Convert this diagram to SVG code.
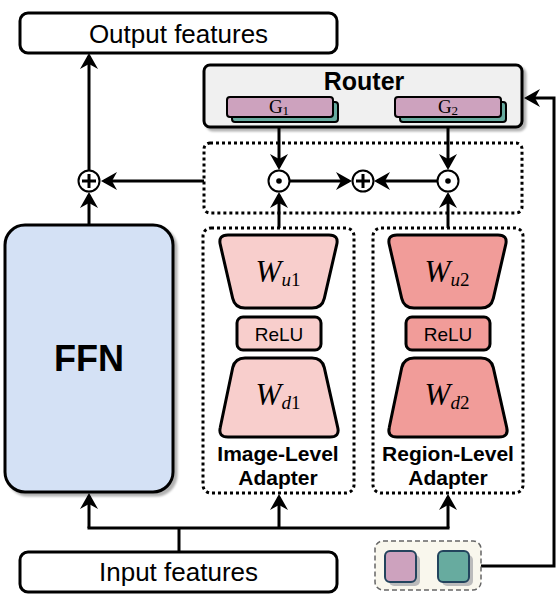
<svg xmlns="http://www.w3.org/2000/svg" width="560" height="598" viewBox="0 0 560 598">
<style>
.box{fill:#fff;stroke:#000;stroke-width:3}
.dot{fill:none;stroke:#000;stroke-width:3;stroke-dasharray:3 3}
.sans{font-family:"Liberation Sans",Arial,sans-serif}
.serif{font-family:"Liberation Serif","Times New Roman",serif}
.conn{fill:none;stroke:#000;stroke-width:3}
.op{fill:#fff;stroke:#000;stroke-width:2}
.shape{stroke:#000;stroke-width:3;stroke-linejoin:round}
</style>
<defs>
<marker id="arr" viewBox="0 0 16 18" refX="13" refY="9" markerWidth="16" markerHeight="18" markerUnits="userSpaceOnUse" orient="auto">
<path d="M0,0 L16,9 L0,18 L5,9 z" fill="#000"/>
</marker>
<filter id="sh" x="-10%" y="-10%" width="130%" height="130%">
<feDropShadow dx="3" dy="3" stdDeviation="1.2" flood-color="#000" flood-opacity="0.3"/>
</filter>
<path id="wu" d="M228,235 L329,235 Q339,235 336.7,244.7 L324.3,298.3 Q322,308 312,308 L245,308 Q235,308 232.7,298.3 L220.3,244.7 Q218,235 228,235 Z"/>
<path id="wd" d="M245,358 L312,358 Q322,358 324.3,367.7 L337.7,427.3 Q340,437 330,437 L228,437 Q218,437 220.3,427.3 L232.7,367.7 Q235,358 245,358 Z"/>
</defs>

<g id="connectors">
<line class="conn" x1="89" y1="170" x2="89" y2="56" marker-end="url(#arr)"/>
<line class="conn" x1="89" y1="225" x2="89" y2="195" marker-end="url(#arr)"/>
<line class="conn" x1="204" y1="181" x2="104" y2="181" marker-end="url(#arr)"/>
<line class="conn" x1="289" y1="181" x2="349" y2="181" marker-end="url(#arr)"/>
<line class="conn" x1="438" y1="181" x2="377" y2="181" marker-end="url(#arr)"/>
<line class="conn" x1="279" y1="117" x2="279" y2="167" marker-end="url(#arr)"/>
<line class="conn" x1="448" y1="117" x2="448" y2="167" marker-end="url(#arr)"/>
<line class="conn" x1="279" y1="228" x2="279" y2="195" marker-end="url(#arr)"/>
<line class="conn" x1="448" y1="228" x2="448" y2="195" marker-end="url(#arr)"/>
<line class="conn" x1="179" y1="552" x2="179" y2="528"/>
<line class="conn" x1="87.5" y1="528" x2="449.5" y2="528"/>
<line class="conn" x1="89" y1="528" x2="89" y2="496" marker-end="url(#arr)"/>
<line class="conn" x1="279" y1="528" x2="279" y2="497" marker-end="url(#arr)"/>
<line class="conn" x1="448" y1="528" x2="448" y2="497" marker-end="url(#arr)"/>
<polyline class="conn" points="481,566 554,566 554,98 527,98" marker-end="url(#arr)"/>
</g>

<g id="output">
<rect class="box" x="20" y="13" width="317" height="40" rx="8"/>
<text class="sans" x="178.5" y="43" font-size="26" text-anchor="middle">Output features</text>
</g>

<g id="input">
<rect class="box" x="20" y="552" width="317" height="40" rx="8"/>
<text class="sans" x="178.5" y="581" font-size="26" text-anchor="middle">Input features</text>
</g>

<g id="router">
<rect x="204" y="65" width="318" height="62" rx="6" fill="#f0f0f0" stroke="#000" stroke-width="3" filter="url(#sh)"/>
<text class="sans" x="364" y="90" font-size="25" font-weight="bold" text-anchor="middle">Router</text>
<rect x="232" y="102" width="106" height="20" rx="3" fill="#67ab9f" stroke="#000" stroke-width="2"/>
<rect x="227" y="97" width="106" height="20" rx="3" fill="#cda2be" stroke="#000" stroke-width="2"/>
<text class="serif" x="279" y="113" font-size="19" text-anchor="middle">G<tspan font-size="13" dy="2">1</tspan></text>
<rect x="400" y="102" width="106" height="20" rx="3" fill="#67ab9f" stroke="#000" stroke-width="2"/>
<rect x="395" y="97" width="106" height="20" rx="3" fill="#cda2be" stroke="#000" stroke-width="2"/>
<text class="serif" x="448" y="113" font-size="19" text-anchor="middle">G<tspan font-size="13" dy="2">2</tspan></text>
</g>

<g id="combine">
<rect class="dot" x="204" y="143" width="318" height="70" rx="6"/>
</g>

<g id="plus-out">
<circle class="op" cx="89" cy="181" r="10.5"/>
<path d="M82,181 H96 M89,174 V188" stroke="#000" stroke-width="3"/>
</g>

<g id="odot1">
<circle class="op" cx="279" cy="181" r="10.5"/>
<circle cx="279" cy="181" r="2.8" fill="#000"/>
</g>
<g id="plus-mid">
<circle class="op" cx="363" cy="181" r="10.5"/>
<path d="M356,181 H370 M363,174 V188" stroke="#000" stroke-width="3"/>
</g>
<g id="odot2">
<circle class="op" cx="448" cy="181" r="10.5"/>
<circle cx="448" cy="181" r="2.8" fill="#000"/>
</g>

<g id="ffn">
<rect x="5" y="225" width="168" height="267" rx="20" fill="#d4e1f5" stroke="#000" stroke-width="3" filter="url(#sh)"/>
<text class="sans" x="89" y="371" font-size="36" font-weight="bold" text-anchor="middle">FFN</text>
</g>

<g id="image-adapter">
<rect class="dot" x="203" y="228" width="151" height="265" rx="8"/>
<use href="#wu" class="shape" fill="#f8cecc"/>
<text class="serif" x="278" y="282" text-anchor="middle"><tspan font-size="31" font-style="italic">W</tspan><tspan font-size="19" font-style="italic" dy="4">u</tspan><tspan font-size="19">1</tspan></text>
<rect x="237" y="317" width="84" height="33" rx="6" fill="#f8cecc" stroke="#000" stroke-width="3"/>
<text class="sans" x="279" y="341" font-size="19" text-anchor="middle">ReLU</text>
<use href="#wd" class="shape" fill="#f8cecc"/>
<text class="serif" x="278" y="405" text-anchor="middle"><tspan font-size="31" font-style="italic">W</tspan><tspan font-size="19" font-style="italic" dy="4">d</tspan><tspan font-size="19">1</tspan></text>
<text class="sans" x="278" y="461" font-size="21" font-weight="bold" text-anchor="middle">Image-Level</text>
<text class="sans" x="278" y="485" font-size="21" font-weight="bold" text-anchor="middle">Adapter</text>
</g>

<g id="region-adapter">
<rect class="dot" x="373" y="228" width="150" height="265" rx="8"/>
<use href="#wu" class="shape" fill="#f19c99" transform="translate(169,0)"/>
<text class="serif" x="447" y="282" text-anchor="middle"><tspan font-size="31" font-style="italic">W</tspan><tspan font-size="19" font-style="italic" dy="4">u</tspan><tspan font-size="19">2</tspan></text>
<rect x="406" y="317" width="84" height="33" rx="6" fill="#f19c99" stroke="#000" stroke-width="3"/>
<text class="sans" x="448" y="341" font-size="19" text-anchor="middle">ReLU</text>
<use href="#wd" class="shape" fill="#f19c99" transform="translate(169,0)"/>
<text class="serif" x="447" y="405" text-anchor="middle"><tspan font-size="31" font-style="italic">W</tspan><tspan font-size="19" font-style="italic" dy="4">d</tspan><tspan font-size="19">2</tspan></text>
<text class="sans" x="448" y="461" font-size="21" font-weight="bold" text-anchor="middle">Region-Level</text>
<text class="sans" x="448" y="485" font-size="21" font-weight="bold" text-anchor="middle">Adapter</text>
</g>

<g id="legend">
<rect x="375" y="541" width="106" height="49" rx="8" fill="#f9f7ed" stroke="#666" stroke-width="1.5" stroke-dasharray="5 3"/>
<rect x="389" y="555" width="31" height="31" rx="5" fill="#bbb"/>
<rect x="385" y="551" width="31" height="31" rx="5" fill="#cda2be" stroke="#23445d" stroke-width="2"/>
<rect x="442" y="555" width="31" height="31" rx="5" fill="#bbb"/>
<rect x="438" y="551" width="31" height="31" rx="5" fill="#67ab9f" stroke="#23445d" stroke-width="2"/>
</g>
</svg>
